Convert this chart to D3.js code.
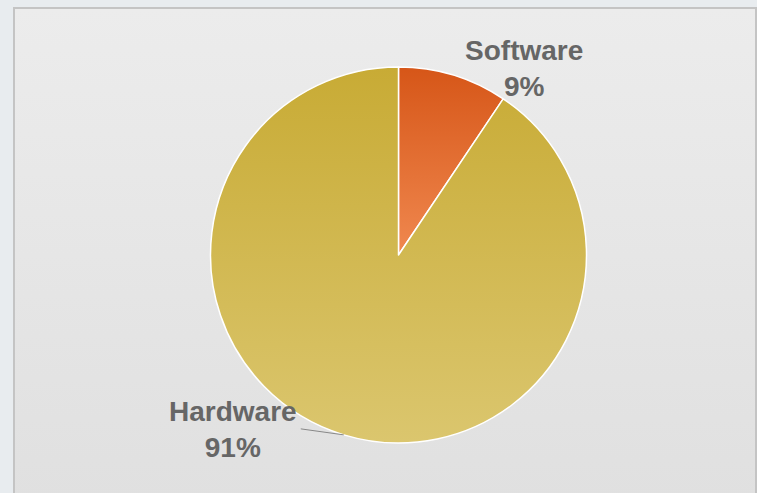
<!DOCTYPE html>
<html>
<head>
<meta charset="utf-8">
<script src="https://cdn.jsdelivr.net/npm/d3@7"></script>
<style>
  html, body { margin: 0; padding: 0; background: #e8ecef; }
  svg { display: block; }
  text { font-family: "Liberation Sans", Arial, sans-serif; font-weight: bold; fill: #666; }
</style>
</head>
<body>
<svg id="chart"></svg>
<script>
const categories = ['Software', 'Hardware']
const values = [9.4, 90.6]
const labels = ['9%', '91%']

const W = 757, H = 493
const cx = 398.5, cy = 255, radius = 188

const svg = d3.select('#chart').attr('width', W).attr('height', H)
const defs = svg.append('defs')

// frame background
const bg = defs.append('linearGradient').attr('id', 'bg').attr('x1', 0).attr('y1', 0).attr('x2', 0).attr('y2', 1)
bg.append('stop').attr('offset', 0).attr('stop-color', '#ececec')
bg.append('stop').attr('offset', 1).attr('stop-color', '#e0e0e0')

svg.append('rect')
  .attr('x', 14).attr('y', 8)
  .attr('width', W - 15).attr('height', H)
  .attr('fill', 'url(#bg)')
  .attr('stroke', '#c4c4c4')
  .attr('stroke-width', 2)

const gradStops = {
  Software: ['#d65618', '#f0884f'],
  Hardware: ['#c8ab35', '#dbc66e']
}
categories.forEach(c => {
  const g = defs.append('linearGradient').attr('id', 'g-' + c)
    .attr('x1', 0).attr('y1', 0).attr('x2', 0).attr('y2', 1)
  g.append('stop').attr('offset', 0).attr('stop-color', gradStops[c][0])
  g.append('stop').attr('offset', 1).attr('stop-color', gradStops[c][1])
})

const pie = d3.pie().sort(null).value(d => d)
const arcs = pie(values)
const arc = d3.arc().innerRadius(0).outerRadius(radius)
const edgeArc = d3.arc().innerRadius(radius).outerRadius(radius)

const vis = svg.append('g').attr('transform', `translate(${cx},${cy})`)

vis.selectAll('path')
  .data(arcs)
  .enter()
  .append('path')
  .attr('d', arc)
  .attr('fill', (d, i) => `url(#g-${categories[i]})`)
  .attr('stroke', '#fff')
  .attr('stroke-width', 1.5)
  .attr('stroke-linejoin', 'round')

// data labels, placed relative to the slice's mid point on the rim
const labelOffsets = [
  { dx: 71, dy: -15, line: false },
  { dx: -111, dy: -14, line: true }
]

arcs.forEach((d, i) => {
  const [ex, ey] = edgeArc.centroid(d)
  const off = labelOffsets[i]
  const lx = ex + off.dx, ly = ey + off.dy
  if (off.line) {
    vis.append('path')
      .attr('d', `M${ex},${ey}L${ex - 43},${ey - 6}`)
      .attr('stroke', '#888')
      .attr('stroke-width', 1)
      .attr('fill', 'none')
  }
  const t = vis.append('text')
    .attr('text-anchor', 'middle')
    .attr('font-size', 28)
  t.append('tspan').attr('x', lx).attr('y', ly).text(categories[i])
  t.append('tspan').attr('x', lx).attr('y', ly + 36).text(labels[i])
})
</script>
</body>
</html>
